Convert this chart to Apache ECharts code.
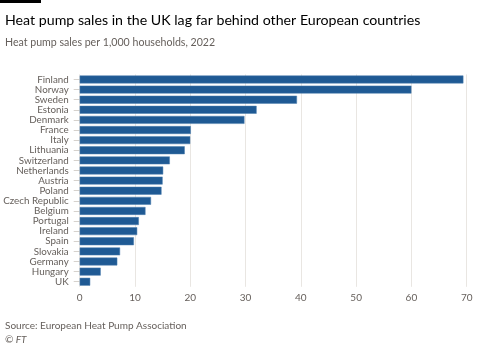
<!DOCTYPE html>
<html><head><meta charset="utf-8">
<script src="https://cdn.jsdelivr.net/npm/echarts@6/dist/echarts.min.js"></script>
<style>html,body{margin:0;padding:0;background:#fff}#c{width:480px;height:343px}</style>
</head><body><div id="c"></div>
<script>
const countries = ['Finland','Norway','Sweden','Estonia','Denmark','France','Italy','Lithuania','Switzerland','Netherlands','Austria','Poland','Czech Republic','Belgium','Portugal','Ireland','Spain','Slovakia','Germany','Hungary','UK'];
const salesPer1000 = [69.4,60.0,39.3,32.0,29.8,20.1,20.0,19.0,16.3,15.1,15.0,14.8,12.9,11.9,10.7,10.4,9.8,7.3,6.8,3.8,1.9];
const xTicks = [0,10,20,30,40,50,60,70];

const chart = echarts.init(document.getElementById('c'), null, {renderer:'canvas'});
const font = 'Lato, "Noto Sans", sans-serif';
chart.setOption({
  backgroundColor:'#fff',
  animation:false,
  title:[
    {text:'Heat pump sales in the UK lag far behind other European countries', left:0, top:8,
     textStyle:{fontFamily:font, fontSize:14.2, fontWeight:'normal', color:'#000'}},
    {text:'Heat pump sales per 1,000 households, 2022', left:0, top:32,
     textStyle:{fontFamily:font, fontSize:10.6, fontWeight:'normal', color:'#66605c'}},
    {text:'Source: European Heat Pump Association', left:0, top:316,
     textStyle:{fontFamily:font, fontSize:10, fontWeight:'normal', color:'#66605c'}},
    {text:'© FT', left:0, top:330,
     textStyle:{fontFamily:font, fontSize:10, fontWeight:'normal', fontStyle:'italic', color:'#66605c'}}
  ],
  graphic:[{type:'rect', shape:{x:0,y:0,width:41,height:3}, style:{fill:'#000'}}],
  grid:{left:79.7, right:13.3, top:74.4, bottom:56.2, containLabel:false, outerBoundsMode:'none'},
  xAxis:{type:'value', min:xTicks[0], max:xTicks[xTicks.length-1], interval:10,
    axisLine:{show:false}, axisTick:{show:false},
    splitLine:{lineStyle:{color:'#e9e6e2', width:1}},
    axisLabel:{fontFamily:font, fontSize:10, color:'#66605c', margin:6}},
  yAxis:{type:'category', data:countries, inverse:true,
    axisLine:{show:false},
    axisTick:{show:true, length:6, alignWithLabel:true, interval:0, lineStyle:{color:'#d6d2cd'}},
    axisLabel:{fontFamily:font, fontSize:9.8, color:'#66605c', margin:11, interval:0}},
  series:[{type:'bar', data:salesPer1000, barCategoryGap:'22%',
    itemStyle:{color:'#1f5a94', borderColor:'#4d7eae', borderWidth:0.5}}]
});
</script></body></html>
